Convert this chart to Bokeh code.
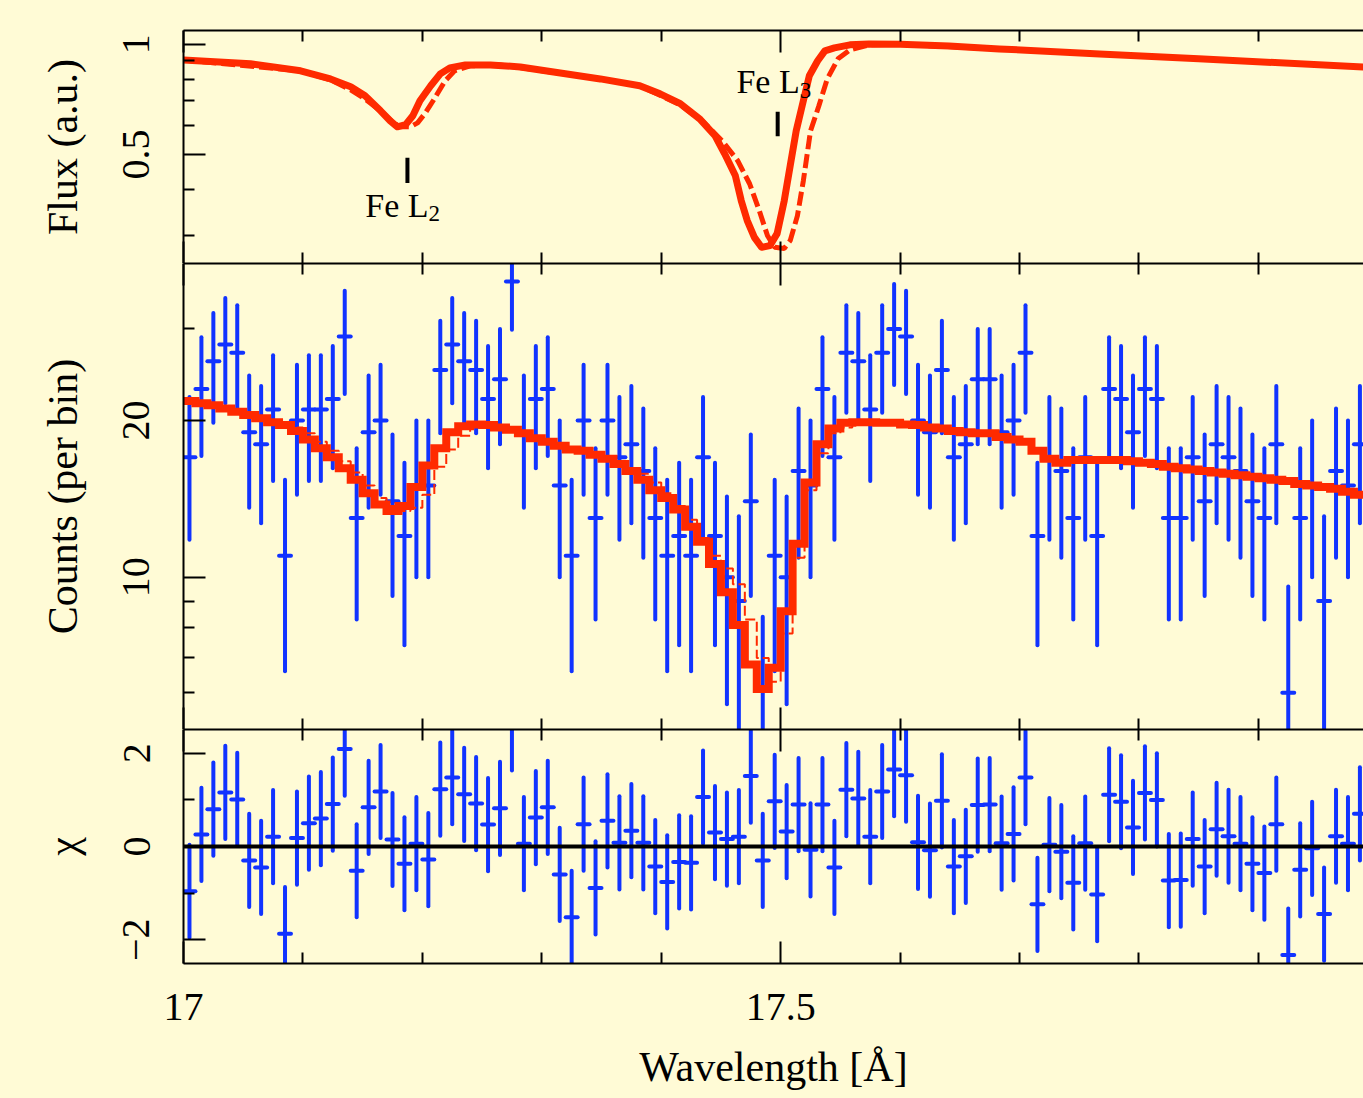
import numpy as np
from bokeh.plotting import figure
from bokeh.layouts import column
from bokeh.models import (Range1d, FixedTicker, LinearAxis, LogAxis, LogScale,
                          CustomJSTickFormatter, Span, Label, ColumnDataSource,
                          GlobalInlineStyleSheet)
from bokeh.embed import file_html
from bokeh.resources import INLINE

# ---------------- data ----------------
# top panel: transmitted flux models
flux_wave = [17.000, 17.056, 17.098, 17.123, 17.140, 17.152, 17.165, 17.173, 17.179, 17.186,
             17.192, 17.198, 17.207, 17.215, 17.223, 17.236, 17.257, 17.282, 17.349, 17.382,
             17.399, 17.416, 17.432, 17.445, 17.453, 17.462, 17.467, 17.472, 17.478, 17.484,
             17.491, 17.497, 17.503, 17.508, 17.513, 17.518, 17.524, 17.531, 17.537, 17.545,
             17.558, 17.574, 17.600, 17.641, 17.683, 17.767, 17.850, 17.988]
flux_model = [0.906, 0.884, 0.846, 0.804, 0.765, 0.723, 0.658, 0.618, 0.595, 0.603,
              0.638, 0.701, 0.770, 0.830, 0.862, 0.878, 0.878, 0.867, 0.804, 0.770,
              0.732, 0.688, 0.626, 0.563, 0.503, 0.438, 0.374, 0.330, 0.297, 0.279,
              0.282, 0.304, 0.374, 0.466, 0.580, 0.679, 0.820, 0.901, 0.959, 0.977,
              0.996, 1.002, 0.999, 0.989, 0.971, 0.941, 0.912, 0.867]
flux_wave_alt = [17.000, 17.098, 17.123, 17.140, 17.152, 17.165, 17.175, 17.181, 17.190, 17.196,
                 17.202, 17.209, 17.219, 17.227, 17.240, 17.265, 17.349, 17.382, 17.416, 17.436,
                 17.451, 17.464, 17.474, 17.482, 17.489, 17.495, 17.503, 17.508, 17.514, 17.519,
                 17.525, 17.532, 17.539, 17.548, 17.558, 17.574, 17.600, 17.683, 17.988]
flux_alt = [0.906, 0.846, 0.799, 0.751, 0.709, 0.658, 0.614, 0.595, 0.595, 0.610,
            0.646, 0.701, 0.794, 0.846, 0.873, 0.878, 0.804, 0.770, 0.683, 0.610,
            0.545, 0.481, 0.416, 0.352, 0.300, 0.279, 0.277, 0.291, 0.340, 0.424,
            0.580, 0.679, 0.804, 0.912, 0.965, 0.996, 0.999, 0.971, 0.867]

# edge markers
edge_name = ["Fe L", "Fe L"]
edge_sub = ["2", "3"]
edge_wave = [17.1875, 17.4975]
edge_tick_lo = [0.418, 0.561]
edge_tick_hi = [0.490, 0.654]
edge_text_x = [17.2052, 17.5159]
edge_text_y = [0.3626, 0.789]
edge_sub_y = [0.3448, 0.746]

# binned spectrum (0.01 A bins)
bin_half = 0.005
wave = [17.005, 17.015, 17.025, 17.035, 17.045, 17.055, 17.065, 17.075, 17.085, 17.095,
        17.105, 17.115, 17.125, 17.135, 17.145, 17.155, 17.165, 17.175, 17.185, 17.195,
        17.205, 17.215, 17.225, 17.235, 17.245, 17.255, 17.265, 17.275, 17.285, 17.295,
        17.305, 17.315, 17.325, 17.335, 17.345, 17.355, 17.365, 17.375, 17.385, 17.395,
        17.405, 17.415, 17.425, 17.435, 17.445, 17.455, 17.465, 17.475, 17.485, 17.495,
        17.505, 17.515, 17.525, 17.535, 17.545, 17.555, 17.565, 17.575, 17.585, 17.595,
        17.605, 17.615, 17.625, 17.635, 17.645, 17.655, 17.665, 17.675, 17.685, 17.695,
        17.705, 17.715, 17.725, 17.735, 17.745, 17.755, 17.765, 17.775, 17.785, 17.795,
        17.805, 17.815, 17.825, 17.835, 17.845, 17.855, 17.865, 17.875, 17.885, 17.895,
        17.905, 17.915, 17.925, 17.935, 17.945, 17.955, 17.965, 17.975, 17.985]
counts = [17, 23, 26, 28, 27, 19, 18, 21, 11, 20,
          21, 21, 22, 29, 13, 19, 20, 14, 12, 15,
          15, 25, 28, 26, 25, 22, 24, 37, 19, 22,
          23, 15, 11, 20, 13, 20, 17, 18, 16, 13,
          11, 12, 11, 17, 12, 10, 9, 14, 5, 11,
          10, 16, 15, 23, 17, 27, 26, 21, 27, 30,
          29, 20, 19, 25, 17, 18, 24, 24, 19, 20,
          27, 12, 17, 16, 13, 17, 12, 23, 22, 19,
          23, 22, 13, 13, 17, 14, 18, 17, 16, 14,
          13, 18, 6, 13, 15, 9, 16, 15, 18]
count_err = [5.2, 5.9, 6.2, 6.4, 6.3, 5.4, 5.3, 5.7, 4.4, 5.6,
             5.7, 5.7, 5.8, 6.5, 4.7, 5.4, 5.6, 4.8, 4.6, 5.0,
             5.0, 6.1, 6.4, 6.2, 6.1, 5.8, 6.0, 7.1, 5.4, 5.8,
             5.9, 5.0, 4.4, 5.6, 4.7, 5.6, 5.2, 5.3, 5.1, 4.7,
             4.4, 4.6, 4.4, 5.2, 4.6, 4.3, 4.1, 4.8, 3.4, 4.4,
             4.3, 5.1, 5.0, 5.9, 5.2, 6.3, 6.2, 5.7, 6.3, 6.6,
             6.5, 5.6, 5.4, 6.1, 5.2, 5.3, 6.0, 6.0, 5.4, 5.6,
             6.3, 4.6, 5.2, 5.1, 4.7, 5.2, 4.6, 5.9, 5.8, 5.4,
             5.9, 5.8, 4.7, 4.7, 5.2, 4.8, 5.3, 5.2, 5.1, 4.8,
             4.7, 5.3, 3.6, 4.7, 5.0, 4.1, 5.1, 5.0, 5.3]
model_counts = [21.8, 21.6, 21.4, 21.1, 20.8, 20.5, 20.2, 19.85, 19.6, 19.1,
                18.4, 17.7, 17.0, 16.2, 15.4, 14.5, 13.8, 13.4, 13.7, 14.9,
                16.4, 17.7, 19.0, 19.5, 19.65, 19.6, 19.4, 19.2, 18.9, 18.5,
                18.2, 17.9, 17.6, 17.5, 17.2, 16.9, 16.5, 16.0, 15.4, 14.7,
                14.2, 13.5, 12.5, 11.7, 10.6, 9.36, 8.1, 6.8, 6.1, 6.7,
                8.6, 11.6, 15.2, 18.0, 19.3, 19.8, 19.85, 19.85, 19.8, 19.8,
                19.65, 19.6, 19.4, 19.3, 19.1, 19.0, 18.9, 18.9, 18.6, 18.4,
                18.2, 17.5, 16.9, 16.6, 16.8, 16.8, 16.8, 16.8, 16.8, 16.7,
                16.6, 16.5, 16.3, 16.2, 16.1, 16.0, 15.9, 15.8, 15.7, 15.6,
                15.5, 15.4, 15.3, 15.1, 15.0, 14.9, 14.8, 14.6, 14.4]
model_counts_alt = [21.8, 21.6, 21.4, 21.1, 20.8, 20.5, 20.2, 19.85, 19.6, 19.4,
                    18.9, 18.2, 17.5, 16.7, 15.9, 15.0, 14.2, 13.7, 13.4, 13.6,
                    14.4, 16.3, 17.6, 18.7, 19.5, 19.6, 19.4, 19.2, 18.9, 18.5,
                    18.2, 17.9, 17.6, 17.5, 17.2, 16.9, 16.6, 16.2, 15.8, 15.2,
                    14.5, 13.7, 12.9, 11.9, 11.0, 10.4, 9.7, 8.3, 7.0, 6.3,
                    7.8, 10.9, 14.7, 17.3, 18.9, 19.4, 19.7, 19.85, 19.8, 19.8,
                    19.65, 19.6, 19.4, 19.3, 19.1, 19.0, 18.9, 18.9, 18.6, 18.4,
                    18.2, 17.5, 16.9, 16.6, 16.8, 16.8, 16.8, 16.8, 16.8, 16.7,
                    16.6, 16.5, 16.3, 16.2, 16.1, 16.0, 15.9, 15.8, 15.7, 15.6,
                    15.5, 15.4, 15.3, 15.1, 15.0, 14.9, 14.8, 14.6, 14.4]
chi = [-0.96, 0.26, 0.80, 1.16, 1.01, -0.30, -0.45, 0.21, -1.87, 0.18,
       0.50, 0.60, 0.91, 2.09, -0.52, 0.84, 1.18, 0.15, -0.37, 0.06,
       -0.28, 1.23, 1.48, 1.12, 0.92, 0.47, 0.82, 2.63, 0.06, 0.62,
       0.84, -0.60, -1.52, 0.48, -0.89, 0.55, 0.08, 0.34, 0.08, -0.43,
       -0.76, -0.33, -0.35, 1.06, 0.30, 0.16, 0.21, 1.51, -0.30, 0.97,
       0.32, 0.90, -0.07, 0.90, -0.45, 1.22, 1.03, 0.21, 1.18, 1.65,
       1.53, 0.09, -0.08, 0.98, -0.43, -0.21, 0.89, 0.90, 0.07, 0.27,
       1.48, -1.24, 0.04, -0.11, -0.78, 0.07, -1.03, 1.11, 0.96, 0.41,
       1.15, 1.00, -0.73, -0.72, 0.16, -0.43, 0.37, 0.22, 0.06, -0.37,
       -0.57, 0.48, -2.33, -0.50, -0.04, -1.45, 0.22, 0.06, 0.70]
chi_err = 1.0

x_major = [17.0, 17.5, 18.0]
x_minor = [17.1, 17.2, 17.3, 17.4, 17.6, 17.7, 17.8, 17.9]
flux_major = [0.5, 1.0]
flux_minor = [0.3, 0.4, 0.6, 0.7, 0.8, 0.9]
cnt_major = [10, 20]
cnt_minor = [6, 7, 8, 9, 30]
chi_major = [-2, 0, 2]
chi_minor = [-1, 1]

# ---------------- style ----------------
BG = "#FFFBD6"
RED = "#FF2A00"
BLUE = "#1133FF"
FONT = "Liberation Serif"
X_RANGE = (17.0, 17.988)
FRAME_W = 1180
LABEL_FMT = "return tick < 0 ? '\\u2212' + String(-tick) : String(tick)"


def style_axis(ax, ticks, minor, labels, major_len=22, minor_len=11):
    ax.ticker = FixedTicker(ticks=ticks, minor_ticks=minor)
    ax.axis_line_color = "black"
    ax.axis_line_width = 2
    ax.major_tick_in = major_len
    ax.major_tick_out = 0
    ax.minor_tick_in = minor_len
    ax.minor_tick_out = 0
    ax.major_tick_line_width = 2
    ax.minor_tick_line_width = 2
    ax.major_tick_line_color = "black"
    ax.minor_tick_line_color = "black"
    if labels:
        ax.formatter = CustomJSTickFormatter(code=LABEL_FMT)
        ax.major_label_text_font = FONT
        ax.major_label_text_font_size = "40px"
        ax.major_label_text_color = "black"
    else:
        ax.formatter = CustomJSTickFormatter(code="return ''")
        ax.major_label_text_font_size = "0px"
        ax.major_label_standoff = 0
    return ax


def title_style(ax, text, standoff):
    ax.axis_label = text
    ax.axis_label_text_font = FONT
    ax.axis_label_text_font_size = "42px"
    ax.axis_label_text_font_style = "normal"
    ax.axis_label_text_color = "black"
    ax.axis_label_standoff = standoff


def make_fig(frame_h, yr, log, top, bottom, ylabel, yticks, yminor, xlabels):
    p = figure(frame_width=FRAME_W, frame_height=frame_h,
               x_range=Range1d(*X_RANGE), y_range=Range1d(*yr),
               x_axis_type=None, y_axis_type=None,
               toolbar_location=None, output_backend="svg",
               min_border_left=183, min_border_right=0,
               min_border_top=top, min_border_bottom=bottom,
               background_fill_color=BG, border_fill_color=BG,
               outline_line_color=None)
    if log:
        p.y_scale = LogScale()
        left = LogAxis()
    else:
        left = LinearAxis()
    style_axis(left, yticks, yminor, True)
    left.major_label_orientation = "vertical"
    left.major_label_standoff = 34
    title_style(left, ylabel, 35)
    p.add_layout(left, "left")
    p.add_layout(style_axis(LinearAxis(), x_major, x_minor, False), "above")
    below = style_axis(LinearAxis(), x_major, x_minor, xlabels)
    if xlabels:
        below.major_label_standoff = 30
        title_style(below, "Wavelength [Å]", 21)
    p.add_layout(below, "below")
    return p


# ---------------- top: flux ----------------
p1 = make_fig(233, (0.252, 1.09), True, 30, 0, "Flux (a.u.)", flux_major, flux_minor, False)
p1.line(flux_wave_alt, flux_alt, line_color=RED, line_width=5, line_dash="14 5")
p1.line(flux_wave, flux_model, line_color=RED, line_width=7, line_join="round")
p1.segment(x0=edge_wave, y0=edge_tick_lo, x1=edge_wave, y1=edge_tick_hi,
           line_color="black", line_width=4)
for i in range(len(edge_wave)):
    p1.add_layout(Label(x=edge_text_x[i], y=edge_text_y[i], text=edge_name[i],
                        text_font=FONT, text_font_size="34px", text_color="black",
                        text_align="right", text_baseline="alphabetic"))
    p1.add_layout(Label(x=edge_text_x[i], y=edge_sub_y[i], text=edge_sub[i],
                        text_font=FONT, text_font_size="23px", text_color="black",
                        text_align="left", text_baseline="alphabetic"))

# ---------------- middle: counts ----------------
w = np.array(wave)
c = np.array(counts, dtype=float)
e = np.array(count_err)
src = ColumnDataSource(dict(x=w, xl=w - bin_half, xr=w + bin_half, c=c, lo=c - e, hi=c + e))
p2 = make_fig(466, (5.10, 40.06), True, 0, 0, "Counts (per bin)", cnt_major, cnt_minor, False)
p2.segment(x0="x", y0="lo", x1="x", y1="hi", source=src, line_color=BLUE, line_width=4, line_cap="round")
p2.segment(x0="xl", y0="c", x1="xr", y1="c", source=src, line_color=BLUE, line_width=4, line_cap="round")
step_x = np.column_stack([w - bin_half, w + bin_half]).ravel()
p2.line(step_x, np.repeat(model_counts_alt, 2), line_color=RED, line_width=2, line_dash="10 4")
p2.line(step_x, np.repeat(model_counts, 2), line_color=RED, line_width=8, line_join="miter")

# ---------------- bottom: chi ----------------
ch = np.array(chi)
src3 = ColumnDataSource(dict(x=w, xl=w - bin_half, xr=w + bin_half, c=ch, lo=ch - chi_err, hi=ch + chi_err))
p3 = make_fig(234, (-2.51, 2.51), False, 0, 0, "χ", chi_major, chi_minor, True)
p3.segment(x0="x", y0="lo", x1="x", y1="hi", source=src3, line_color=BLUE, line_width=4, line_cap="round")
p3.segment(x0="xl", y0="c", x1="xr", y1="c", source=src3, line_color=BLUE, line_width=4, line_cap="round")
p3.add_layout(Span(location=0, dimension="width", line_color="black", line_width=4))

layout = column(p1, p2, p3, spacing=0,
                stylesheets=[GlobalInlineStyleSheet(css="html, body { background: #FFFBD6; }")])

open("out.html", "w").write(file_html(layout, INLINE))
